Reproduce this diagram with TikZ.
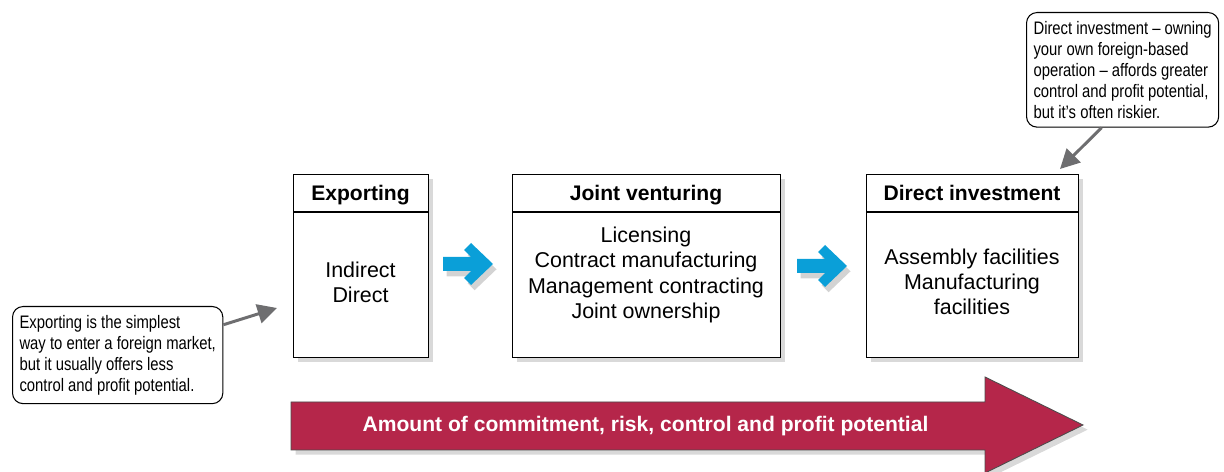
\documentclass[tikz,border=0pt]{standalone}
\usepackage{fontspec}
\setmainfont{Liberation Sans}
\newfontfamily\narrowfont[FakeStretch=0.82]{Liberation Sans}
\definecolor{mkblue}{HTML}{0A9FD8}
\definecolor{mkred}{HTML}{B5264A}
\definecolor{mkgrey}{HTML}{6E6E70}
\usetikzlibrary{arrows.meta,positioning,shadows}

\begin{document}
\begin{tikzpicture}[x=0.02cm,y=-0.02cm,
  panel/.style={draw,line width=0.8pt,fill=white,anchor=north west,inner sep=0pt,minimum height=3.66cm,drop shadow={opacity=0.3}},
  headtxt/.style={anchor=base,font=\bfseries\fontsize{12}{14}\selectfont},
  bodytxt/.style={align=center,font=\fontsize{12.2}{14.3}\selectfont},
  note/.style={draw,fill=white,rounded corners=6pt,line width=0.6pt,anchor=north west,align=left,inner xsep=0.14cm,inner ysep=0.17cm,font=\narrowfont\fontsize{10.3}{12}\selectfont},
  pointer/.style={draw=mkgrey,line width=1.7pt,-{Triangle[length=11pt,width=11pt]}},
  nudge/.style={fill=mkblue,drop shadow={opacity=0.35,shadow xshift=2pt,shadow yshift=-3pt}}]
\useasboundingbox (0,0) rectangle (1224,472);

\node[panel,minimum width=2.7cm] (exp) at (293,174) {};
\node[panel,minimum width=5.36cm] (jv) at (512,174) {};
\node[panel,minimum width=4.24cm] (di) at (866,174) {};
\foreach \p in {exp,jv,di}
  \draw[line width=0.8pt] ([yshift=-0.76cm]\p.north west) -- ([yshift=-0.76cm]\p.north east);

\node[headtxt] (exphead) at (360.5,201) {Exporting};
\node[headtxt] (jvhead) at (646,201) {Joint venturing};
\node[headtxt] (dihead) at (972,201) {Direct investment};

\node[bodytxt] (exptxt) at (360.5,282) {Indirect\\Direct};
\node[bodytxt] (jvtxt) at (646,275) {Licensing\\Contract manufacturing\\Management contracting\\Joint ownership};
\node[bodytxt] (ditxt) at (972,282) {Assembly facilities\\Manufacturing\\facilities};

\coordinate (tip1) at (493,264);
\coordinate (tip2) at (847,266);
\foreach \t in {tip1,tip2}
  \fill[nudge] (\t) -- ++(-22,-21) -- ++(-7,7) -- ++(7,7) -- ++(-28,0) -- ++(0,14) -- ++(28,0) -- ++(-7,7) -- ++(7,7) -- cycle;

\draw[fill=mkred,draw=black!70,line width=0.5pt,drop shadow={opacity=0.3}] (291,402) -- (985,402) -- (985,377) -- (1083,425) -- (985,473) -- (985,450) -- (291,450) -- cycle;
\node[text=white,font=\bfseries\fontsize{12}{14}\selectfont] (scale) at (645.5,426) {Amount of commitment, risk, control and profit potential};

\node[note] (lnote) at (12,306) {Exporting is the simplest\\way to enter a foreign market,\\but it usually offers less\\control and profit potential.};
\node[note] (rnote) at (1026,12) {Direct investment – owning\\your own foreign-based\\operation – affords greater\\control and profit potential,\\but it’s often riskier.};

\coordinate (ltip) at (277,308);
\coordinate (rtip) at (1060,169);
\draw[pointer] (lnote.16) -- (ltip);
\draw[pointer] (rnote.-110) -- (rtip);
\end{tikzpicture}
\end{document}
